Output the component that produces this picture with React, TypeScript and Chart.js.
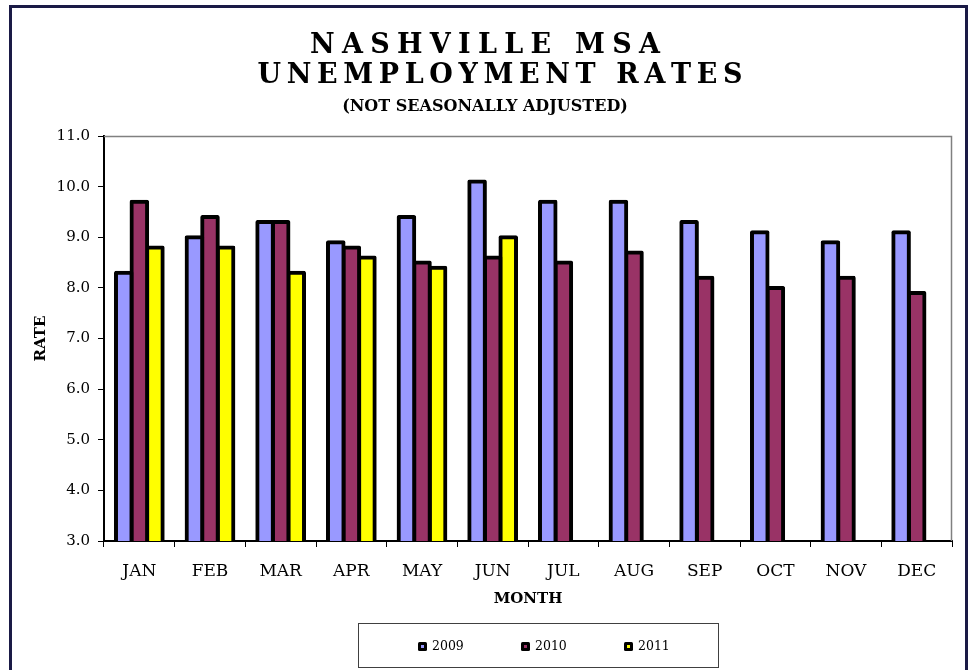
import React, { useEffect, useRef } from "react";
import { Chart, registerables } from "chart.js";

Chart.register(...registerables);

const months = ["JAN", "FEB", "MAR", "APR", "MAY", "JUN", "JUL", "AUG", "SEP", "OCT", "NOV", "DEC"];
const seriesLabels = ["2009", "2010", "2011"];
const rates2009 = [8.3, 9.0, 9.3, 8.9, 9.4, 10.1, 9.7, 9.7, 9.3, 9.1, 8.9, 9.1];
const rates2010 = [9.7, 9.4, 9.3, 8.8, 8.5, 8.6, 8.5, 8.7, 8.2, 8.0, 8.2, 7.9];
const rates2011 = [8.8, 8.8, 8.3, 8.6, 8.4, 9.0, null, null, null, null, null, null];
const seriesColors = ["#9999FF", "#993366", "#FFFF00"];
const yMin = 3;
const yMax = 11;
const yStep = 1;
const titleLines = ["NASHVILLE MSA", "UNEMPLOYMENT RATES"];
const subtitleText = "(NOT SEASONALLY ADJUSTED)";
const xTitle = "MONTH";
const yTitle = "RATE";

const FONT = '"DejaVu Serif", "Liberation Serif", serif';

function drawSpaced(ctx: CanvasRenderingContext2D, text: string, cx: number, baseline: number, target: number) {
  const chars = Array.from(text);
  const widths = chars.map((c) => ctx.measureText(c).width);
  const total = widths.reduce((a, b) => a + b, 0);
  const ls = chars.length > 1 ? (target - total) / (chars.length - 1) : 0;
  let x = cx - target / 2;
  ctx.textAlign = "left";
  ctx.textBaseline = "alphabetic";
  chars.forEach((c, i) => {
    ctx.fillText(c, x, baseline);
    x += widths[i] + ls;
  });
}

const titlePlugin = {
  id: "spacedTitle",
  afterDraw(chart: any) {
    const ctx: CanvasRenderingContext2D = chart.ctx;
    ctx.save();
    ctx.fillStyle = "#000";
    ctx.font = `bold 27px ${FONT}`;
    drawSpaced(ctx, titleLines[0], 485, 53, 350);
    drawSpaced(ctx, titleLines[1], 500, 83, 485);
    ctx.font = `bold 16px ${FONT}`;
    ctx.textAlign = "center";
    ctx.textBaseline = "alphabetic";
    ctx.fillText(subtitleText, 485, 111);
    ctx.restore();
  },
};

const plotFramePlugin = {
  id: "plotFrame",
  beforeDatasetsDraw(chart: any) {
    const { ctx, chartArea } = chart;
    ctx.save();
    ctx.strokeStyle = "#808080";
    ctx.lineWidth = 1.5;
    ctx.beginPath();
    ctx.moveTo(chartArea.left, chartArea.top + 0.5);
    ctx.lineTo(chartArea.right - 0.5, chartArea.top + 0.5);
    ctx.lineTo(chartArea.right - 0.5, chartArea.bottom);
    ctx.stroke();
    ctx.restore();
  },
};

const legendPlugin = {
  id: "boxLegend",
  afterDraw(chart: any) {
    const ctx: CanvasRenderingContext2D = chart.ctx;
    ctx.save();
    ctx.strokeStyle = "#404040";
    ctx.lineWidth = 1;
    ctx.strokeRect(358.5, 623.5, 360, 44);
    ctx.font = `12.5px ${FONT}`;
    ctx.textAlign = "left";
    ctx.textBaseline = "middle";
    chart.data.datasets.forEach((ds: any, i: number) => {
      const x = 418 + i * 103;
      const y = 642;
      ctx.fillStyle = "#000";
      ctx.beginPath();
      (ctx as any).roundRect ? (ctx as any).roundRect(x, y, 9, 9, 1.5) : ctx.rect(x, y, 9, 9);
      ctx.fill();
      ctx.fillStyle = ds.backgroundColor;
      ctx.fillRect(x + 3, y + 3, 3, 3);
      ctx.fillStyle = "#000";
      ctx.fillText(ds.label, x + 14, y + 5);
    });
    ctx.restore();
  },
};

export default function App() {
  const ref = useRef<HTMLCanvasElement | null>(null);

  useEffect(() => {
    if (!ref.current) return;
    const seriesValues = [rates2009, rates2010, rates2011];
    const chart = new Chart(ref.current, {
      type: "bar",
      data: {
        labels: months,
        datasets: seriesLabels.map((label, i) => ({
          label,
          data: seriesValues[i] as any,
          backgroundColor: seriesColors[i],
          borderColor: "#000",
          borderWidth: 4,
          borderSkipped: false,
          borderRadius: 2,
          inflateAmount: 2,
          categoryPercentage: 0.661,
          barPercentage: 1.0,
        })),
      },
      options: {
        responsive: false,
        animation: false,
        events: [],
        layout: { padding: { left: 0, top: 136, right: 18, bottom: 59 } },
        plugins: {
          legend: { display: false },
          title: { display: false },
          tooltip: { enabled: false },
        },
        scales: {
          x: {
            offset: true,
            afterFit(scale: any) {
              scale.height = 70;
            },
            grid: {
              display: true,
              offset: true,
              drawOnChartArea: false,
              drawTicks: true,
              tickLength: 6,
              color: "#000",
              lineWidth: 1,
            },
            border: { display: true, color: "#000", width: 2 },
            ticks: {
              color: "#000",
              font: { family: FONT, size: 17 },
              padding: 14,
              maxRotation: 0,
              autoSkip: false,
            },
            title: {
              display: true,
              text: xTitle,
              color: "#000",
              font: { family: FONT, size: 15, weight: "bold" },
              padding: { top: 0, bottom: 3 },
            },
          },
          y: {
            min: yMin,
            max: yMax,
            afterFit(scale: any) {
              scale.width = 104;
            },
            grid: {
              display: true,
              drawOnChartArea: false,
              drawTicks: true,
              tickLength: 6,
              color: "#000",
              lineWidth: 1,
            },
            border: { display: true, color: "#000", width: 2 },
            ticks: {
              stepSize: yStep,
              color: "#000",
              font: { family: FONT, size: 15 },
              padding: 8,
              callback: (v: any) => Number(v).toFixed(1),
            },
            title: {
              display: true,
              text: yTitle,
              color: "#000",
              font: { family: FONT, size: 15, weight: "bold" },
              padding: { top: 32, bottom: 0 },
            },
          },
        },
      },
      plugins: [titlePlugin, plotFramePlugin, legendPlugin],
    });
    return () => chart.destroy();
  }, []);

  return (
    <div style={{ position: "fixed", left: 0, top: 0, width: 970, height: 670, background: "#fff", overflow: "hidden" }}>
      <div
        style={{
          position: "absolute",
          left: 9,
          top: 5,
          width: 953,
          height: 700,
          borderTop: "3px solid #1a1a46",
          borderLeft: "3px solid #1a1a46",
          borderRight: "3px solid #1a1a46",
        }}
      />
      <canvas
        ref={ref}
        width={970}
        height={670}
        style={{ position: "absolute", left: 0, top: 0, width: 970, height: 670 }}
      />
    </div>
  );
}
